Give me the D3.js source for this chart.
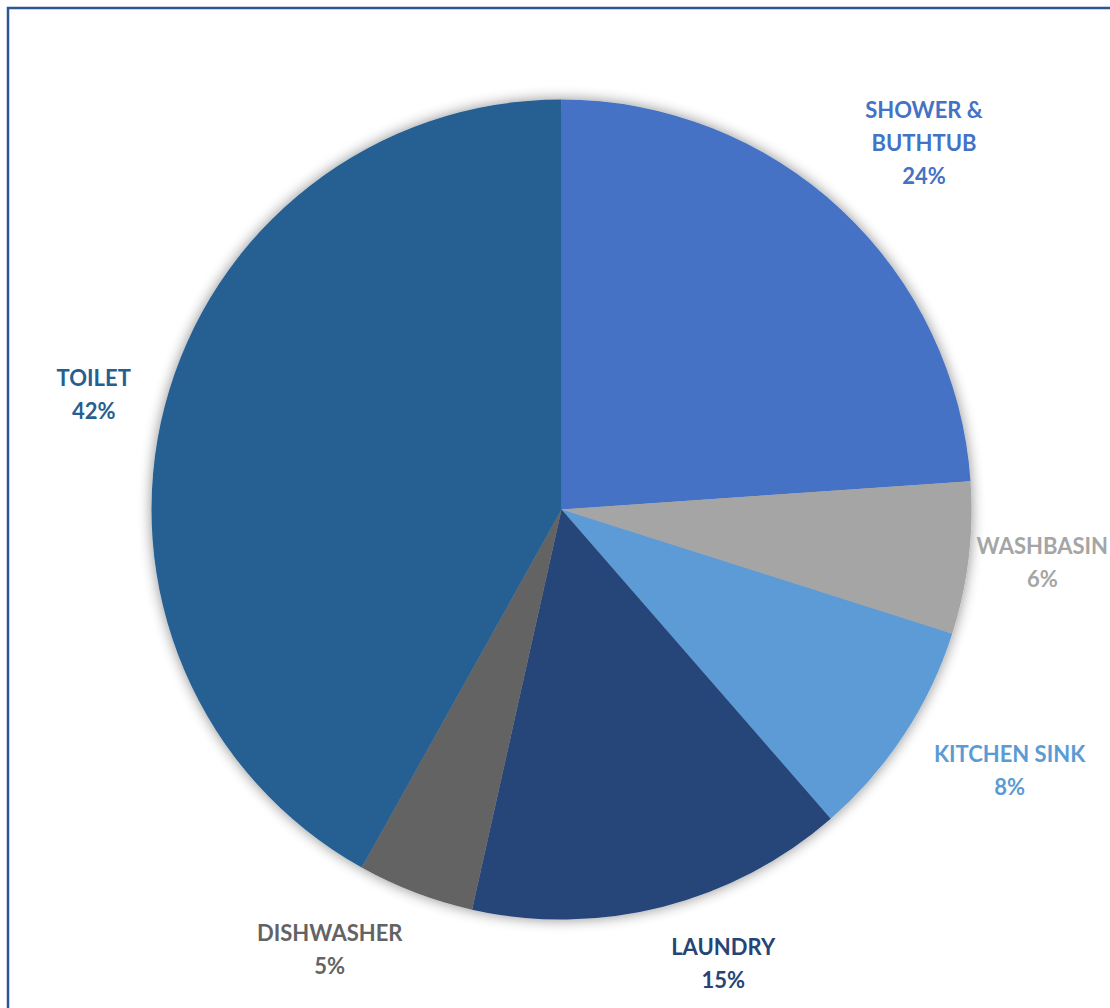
<!DOCTYPE html>
<html>
<head>
<meta charset="utf-8">
<script src="https://cdn.jsdelivr.net/npm/d3@7"></script>
<style>
  body { margin: 0; background: #fff; }
  svg { display: block; }
</style>
</head>
<body>
<div id="pie-container"></div>
<script>
// data, clockwise from 12 o'clock
const labels = ['SHOWER &\nBUTHTUB', 'WASHBASIN', 'KITCHEN SINK', 'LAUNDRY', 'DISHWASHER', 'TOILET'];
const shares = [23.9, 6.0, 8.7, 14.9, 4.6, 41.9];   // slice sizes
const pctLabels = ['24%', '6%', '8%', '15%', '5%', '42%']; // percentages as printed
const colors = ['#4472C4', '#A5A5A5', '#5B9BD5', '#264478', '#636363', '#255E91'];

const width = 1110;
const height = 1008;
const cx = 561.5, cy = 509.5;
const outerRadius = 410;
const labelRadius = 445;
const lineHeight = 33;
const fontSize = 22;

const data = labels.map((label, i) => ({
  label, value: shares[i], pct: pctLabels[i], color: colors[i]
}));

const svg = d3.select('#pie-container')
  .append('svg')
  .attr('width', width)
  .attr('height', height);

// soft shadow round the pie
const defs = svg.append('defs');
const filter = defs.append('filter')
  .attr('id', 'shadow')
  .attr('x', '-10%').attr('y', '-10%')
  .attr('width', '120%').attr('height', '120%');
filter.append('feGaussianBlur').attr('in', 'SourceAlpha').attr('stdDeviation', 7).attr('result', 'blur');
filter.append('feComponentTransfer').attr('in', 'blur').attr('result', 'soft')
  .append('feFuncA').attr('type', 'linear').attr('slope', 0.45);
const merge = filter.append('feMerge');
merge.append('feMergeNode').attr('in', 'soft');
merge.append('feMergeNode').attr('in', 'SourceGraphic');

// frame (only top and left fall inside the picture)
svg.append('rect')
  .attr('x', 8).attr('y', 8)
  .attr('width', width + 20).attr('height', height + 20)
  .attr('fill', 'none')
  .attr('stroke', '#2F5597')
  .attr('stroke-width', 2.5);

const g = svg.append('g')
  .attr('transform', `translate(${cx}, ${cy})`);

const pieGenerator = d3.pie()
  .sort(null)
  .value(d => d.value);

const arcGenerator = d3.arc()
  .innerRadius(0)
  .outerRadius(outerRadius);

const arcs = pieGenerator(data);

g.append('g')
  .attr('filter', 'url(#shadow)')
  .selectAll('path')
  .data(arcs)
  .enter()
  .append('path')
  .attr('d', arcGenerator)
  .attr('fill', d => d.data.color);

// labels: nearest corner of the label box sits on a circle just outside the pie
const labelG = g.append('g')
  .style('font-family', 'Lato, "Open Sans", sans-serif')
  .style('font-weight', 'bold')
  .style('font-size', fontSize + 'px');

const capHeight = fontSize * 0.72;
const sideX = v => Math.sign(v);
const sideY = v => Math.sign(v) * Math.max(0, Math.min(1, (Math.abs(v) - 0.2) / 0.5));

arcs.forEach(d => {
  const lines = d.data.label.split('\n').concat([d.data.pct]);
  const text = labelG.append('text')
    .attr('text-anchor', 'middle')
    .attr('fill', d.data.color);
  lines.forEach((line, i) => {
    text.append('tspan')
      .attr('x', 0)
      .attr('dy', i === 0 ? 0 : lineHeight)
      .text(line);
  });

  const w = text.node().getBBox().width;
  const h = (lines.length - 1) * lineHeight + capHeight;
  const a = (d.startAngle + d.endAngle) / 2;
  let x = labelRadius * Math.sin(a) + sideX(Math.sin(a)) * w / 2;
  let y = -labelRadius * Math.cos(a) - sideY(Math.cos(a)) * h / 2;

  // keep the box inside the drawing area
  const maxX = width - 2 - cx - w / 2;
  const minX = 12 - cx + w / 2;
  const maxY = height - 20 - cy - h / 2;
  x = Math.max(minX, Math.min(maxX, x));
  y = Math.min(maxY, y);

  // y is the visual centre of the block; find the first baseline
  const firstBaseline = y - ((lines.length - 1) * lineHeight - capHeight) / 2;
  text.attr('transform', `translate(${x}, ${firstBaseline})`);
});
</script>
</body>
</html>
